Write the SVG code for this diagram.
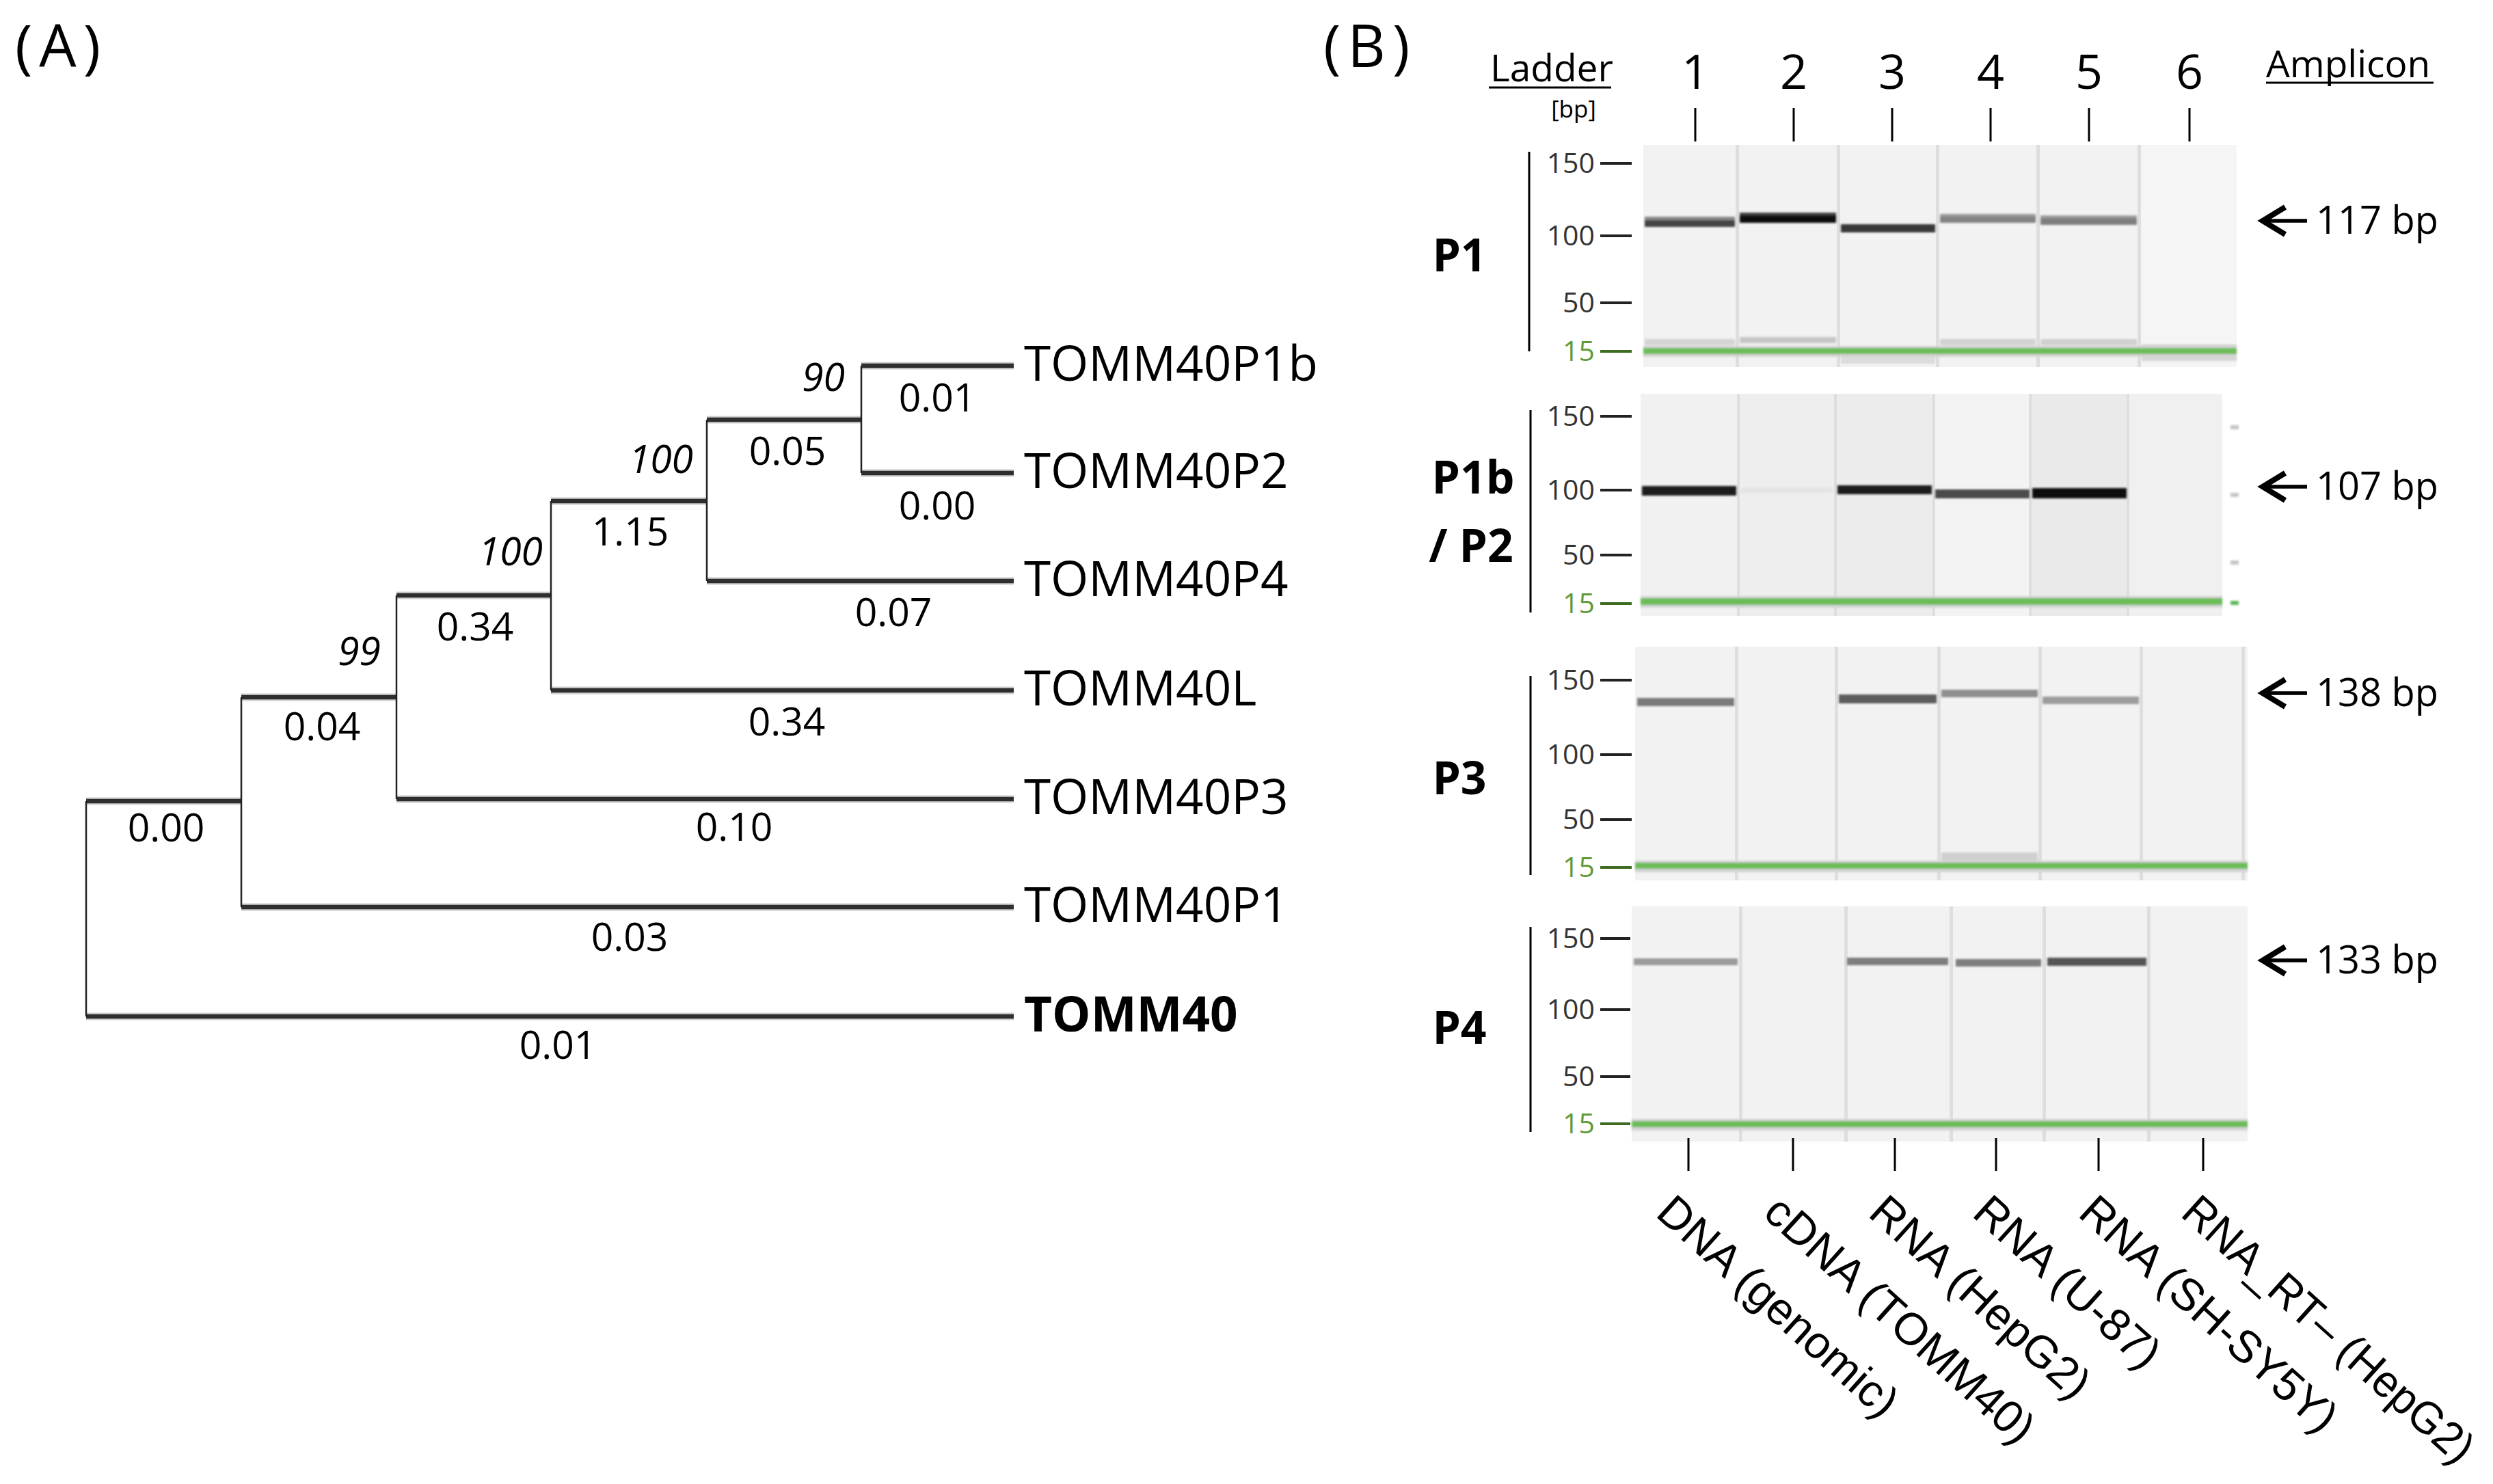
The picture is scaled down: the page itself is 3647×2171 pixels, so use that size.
<svg xmlns="http://www.w3.org/2000/svg" width="3647" height="2171" viewBox="0 0 3647 2171">
<defs>
<style>
.t{font-family:"Open Sans","Liberation Sans",sans-serif;fill:#000}
.tip{font-size:71px}
.bl{font-size:57px;text-anchor:middle}
.bs{font-size:57px;font-style:italic;text-anchor:end}
.halo{stroke:#cfcfcf;stroke-width:11;fill:none}
.h{stroke:#2e2e2e;stroke-width:6.5;fill:none}
.v{stroke:#222;stroke-width:2.5;fill:none}
.lad{font-size:41px;fill:#333;text-anchor:end}
.lad15{font-size:41px;fill:#5e9a38;text-anchor:end}
.tk{stroke:#222;stroke-width:4}
.tk15{stroke:#3d6b22;stroke-width:4}
.axis{stroke:#000;stroke-width:3}
.lt{stroke:#000;stroke-width:3}
.pl{font-size:66px;font-weight:bold;text-anchor:middle}
.hd{font-size:55px}
.num{font-size:70px;text-anchor:middle}
.bp{font-size:56px}
.rot{font-family:"Liberation Sans",Arial,sans-serif;font-size:66px;fill:#000}
.gel{fill:#f2f2f2}
.sep{fill:#dedede}
.grn{fill:#6cbd58}
.ghalo{fill:#d4d4d4}
.arrow{stroke:#000;stroke-width:5.5;fill:none;marker-end:url(#ah)}
</style>
<filter id="soft" x="-5%" y="-200%" width="110%" height="500%"><feGaussianBlur stdDeviation="1.6"/></filter>
<marker id="ah" markerUnits="userSpaceOnUse" markerWidth="46" markerHeight="50" viewBox="0 0 46 50" refX="38" refY="25" orient="auto">
<path d="M5,5 L38,25 L5,45" stroke="#000" stroke-width="8" fill="none"/>
</marker>
</defs>
<rect width="3647" height="2171" fill="#fff"/>

<!-- Panel A -->
<text class="t" x="22" y="98" font-size="86" letter-spacing="10">(A)</text>

<g id="connectors">
<g class="halo">
<path d="M1260,535H1483M1260,692H1483M1034,614H1260M1034,850H1483M806,733H1034M806,1010H1483M580,871H806M580,1169H1483M353,1020H580M353,1327H1483M126,1172H353M126,1487H1483"/>
</g>
<g class="h">
<path d="M1260,535H1483M1260,692H1483M1034,614H1260M1034,850H1483M806,733H1034M806,1010H1483M580,871H806M580,1169H1483M353,1020H580M353,1327H1483M126,1172H353M126,1487H1483"/>
</g>
<g class="v">
<path d="M1260,535V692M1034,614V850M806,733V1010M580,871V1169M353,1020V1327M126,1172V1487"/>
</g>
</g>

<g id="branch-labels" class="t">
<text class="bs" x="1236" y="572">90</text>
<text class="bs" x="1014" y="692">100</text>
<text class="bs" x="794" y="827">100</text>
<text class="bs" x="557" y="973">99</text>
<text class="bl" x="1371" y="602">0.01</text>
<text class="bl" x="1152" y="680">0.05</text>
<text class="bl" x="1371" y="760">0.00</text>
<text class="bl" x="922" y="798">1.15</text>
<text class="bl" x="1307" y="916">0.07</text>
<text class="bl" x="695" y="937">0.34</text>
<text class="bl" x="1151" y="1076">0.34</text>
<text class="bl" x="471" y="1083">0.04</text>
<text class="bl" x="1074" y="1230">0.10</text>
<text class="bl" x="243" y="1231">0.00</text>
<text class="bl" x="921" y="1391">0.03</text>
<text class="bl" x="816" y="1549">0.01</text>
</g>

<g id="tip-TOMM40P1b"><text class="t tip" x="1498" y="557">TOMM40P1b</text></g>
<g id="tip-TOMM40P2"><text class="t tip" x="1498" y="714">TOMM40P2</text></g>
<g id="tip-TOMM40P4"><text class="t tip" x="1498" y="872">TOMM40P4</text></g>
<g id="tip-TOMM40L"><text class="t tip" x="1498" y="1032">TOMM40L</text></g>
<g id="tip-TOMM40P3"><text class="t tip" x="1498" y="1191">TOMM40P3</text></g>
<g id="tip-TOMM40P1"><text class="t tip" x="1498" y="1349">TOMM40P1</text></g>
<g id="tip-TOMM40"><text class="t tip" x="1498" y="1509" font-weight="bold">TOMM40</text></g>

<!-- Panel B -->
<text class="t" x="1936" y="98" font-size="86" letter-spacing="10">(B)</text>

<g id="header" class="t">
<text class="hd" x="2180" y="119">Ladder</text>
<line x1="2178" y1="128" x2="2357" y2="128" stroke="#000" stroke-width="3"/>
<text x="2302" y="172" font-size="35" text-anchor="middle">[bp]</text>
<text class="num" x="2480" y="130">1</text>
<text class="num" x="2624" y="130">2</text>
<text class="num" x="2768" y="130">3</text>
<text class="num" x="2912" y="130">4</text>
<text class="num" x="3056" y="130">5</text>
<text class="num" x="3203" y="130">6</text>
<text class="hd" x="3315" y="113">Amplicon</text>
<line x1="3315" y1="121" x2="3560" y2="121" stroke="#000" stroke-width="3"/>
<g class="lt"><path d="M2480,158V207M2624,158V207M2768,158V207M2912,158V207M3056,158V207M3203,158V207"/></g>
</g>

<!-- Gel P1 -->
<g id="gel-P1">
<rect class="gel" x="2404" y="212" width="868" height="325"/>
<rect x="3131" y="212" width="141" height="325" fill="#f5f5f5"/>
<g class="sep"><rect x="2539" y="212" width="5" height="325"/><rect x="2687" y="212" width="5" height="325"/><rect x="2832" y="212" width="5" height="325"/><rect x="2979" y="212" width="5" height="325"/><rect x="3127" y="212" width="5" height="325"/></g>
<g filter="url(#soft)">
<rect x="2406" y="317" width="132" height="8" fill="#8a8a8a"/><rect x="2406" y="322" width="132" height="10" fill="#444"/>
<rect x="2545" y="311" width="141" height="8" fill="#444"/><rect x="2545" y="315" width="141" height="11" fill="#0d0d0d"/>
<rect x="2693" y="328" width="138" height="12" fill="#383838"/>
<rect x="2838" y="313" width="140" height="8" fill="#9a9a9a"/><rect x="2838" y="317" width="140" height="9" fill="#838383"/>
<rect x="2985" y="315" width="141" height="8" fill="#a0a0a0"/><rect x="2985" y="319" width="141" height="10" fill="#7e7e7e"/>
<rect x="2406" y="496" width="132" height="9" fill="#d4d4d4"/>
<rect x="2545" y="493" width="141" height="9" fill="#c6c6c6"/>
<rect x="2838" y="496" width="140" height="9" fill="#d2d2d2"/>
<rect x="2985" y="496" width="141" height="9" fill="#d0d0d0"/>
<rect x="2693" y="520" width="138" height="12" fill="#dcdcdc"/>
<rect x="3133" y="504" width="139" height="5" fill="#cfcfcf"/>
<rect x="3133" y="520" width="139" height="8" fill="#d6d6d6"/>
<rect x="2404" y="506" width="868" height="16" class="ghalo"/>
<rect x="2404" y="509" width="868" height="9" class="grn"/>
</g>
</g>

<!-- Gel P1b/P2 -->
<g id="gel-P1b-P2">
<rect x="2400" y="576" width="143" height="325" fill="#f1f1f1"/>
<rect x="2543" y="576" width="142" height="325" fill="#eeeeee"/>
<rect x="2685" y="576" width="144" height="325" fill="#ececec"/>
<rect x="2829" y="576" width="141" height="325" fill="#f3f3f3"/>
<rect x="2970" y="576" width="143" height="325" fill="#eaeaea"/>
<rect x="3113" y="576" width="138" height="325" fill="#f0f0f0"/>
<g class="sep"><rect x="2541" y="576" width="4" height="325"/><rect x="2683" y="576" width="4" height="325"/><rect x="2827" y="576" width="4" height="325"/><rect x="2968" y="576" width="4" height="325"/><rect x="3111" y="576" width="4" height="325"/></g>
<g filter="url(#soft)">
<rect x="2402" y="711" width="138" height="14" fill="#1a1a1a"/>
<rect x="2547" y="713" width="135" height="8" fill="#e4e4e4"/>
<rect x="2688" y="710" width="138" height="13" fill="#1e1e1e"/>
<rect x="2831" y="716" width="138" height="13" fill="#4c4c4c"/>
<rect x="2973" y="714" width="138" height="15" fill="#0a0a0a"/>
<rect x="2400" y="872" width="851" height="17" class="ghalo"/>
<rect x="2400" y="875" width="851" height="10" class="grn"/>
<rect x="3263" y="622" width="12" height="6" fill="#c4c4c4"/>
<rect x="3263" y="721" width="12" height="6" fill="#c4c4c4"/>
<rect x="3263" y="820" width="12" height="6" fill="#c4c4c4"/>
<rect x="3263" y="879" width="12" height="6" fill="#5cb85c"/>
</g>
</g>

<!-- Gel P3 -->
<g id="gel-P3">
<rect class="gel" x="2392" y="946" width="896" height="342"/>
<g class="sep"><rect x="2538" y="946" width="5" height="342"/><rect x="2684" y="946" width="5" height="342"/><rect x="2834" y="946" width="5" height="342"/><rect x="2982" y="946" width="5" height="342"/><rect x="3130" y="946" width="5" height="342"/><rect x="3279" y="946" width="5" height="342"/></g>
<g filter="url(#soft)">
<rect x="2395" y="1021" width="142" height="12" fill="#7a7a7a"/>
<rect x="2690" y="1016" width="143" height="13" fill="#5c5c5c"/>
<rect x="2840" y="1009" width="141" height="11" fill="#8e8e8e"/>
<rect x="2988" y="1019" width="141" height="11" fill="#9c9c9c"/>
<rect x="2840" y="1247" width="141" height="12" fill="#d0d0d0"/>
<rect x="2392" y="1259" width="896" height="17" class="ghalo"/>
<rect x="2392" y="1262" width="896" height="9" class="grn"/>
</g>
</g>

<!-- Gel P4 -->
<g id="gel-P4">
<rect class="gel" x="2387" y="1326" width="901" height="344"/>
<g class="sep"><rect x="2544" y="1326" width="5" height="344"/><rect x="2698" y="1326" width="5" height="344"/><rect x="2852" y="1326" width="5" height="344"/><rect x="2988" y="1326" width="5" height="344"/><rect x="3141" y="1326" width="5" height="344"/></g>
<g filter="url(#soft)">
<rect x="2390" y="1402" width="152" height="10" fill="#9a9a9a"/>
<rect x="2702" y="1401" width="148" height="11" fill="#7e7e7e"/>
<rect x="2861" y="1403" width="125" height="11" fill="#7e7e7e"/>
<rect x="2995" y="1401" width="145" height="12" fill="#555"/>
<rect x="2387" y="1637" width="901" height="17" class="ghalo"/>
<rect x="2387" y="1640" width="901" height="9" class="grn"/>
</g>
</g>

<!-- Ladders -->
<g id="ladder-P1" class="t">
<line class="axis" x1="2237" y1="222" x2="2237" y2="514"/>
<line class="tk" x1="2341" y1="239" x2="2387" y2="239"/><text class="lad" x="2333" y="253">150</text>
<line class="tk" x1="2341" y1="345" x2="2387" y2="345"/><text class="lad" x="2333" y="359">100</text>
<line class="tk" x1="2341" y1="443" x2="2387" y2="443"/><text class="lad" x="2333" y="457">50</text>
<line class="tk15" x1="2341" y1="514" x2="2387" y2="514"/><text class="lad15" x="2333" y="528">15</text>
<text class="pl" x="2135" y="397">P1</text>
</g>
<g id="ladder-P1b-P2" class="t">
<line class="axis" x1="2239" y1="600" x2="2239" y2="896"/>
<line class="tk" x1="2341" y1="609" x2="2387" y2="609"/><text class="lad" x="2333" y="623">150</text>
<line class="tk" x1="2341" y1="717" x2="2387" y2="717"/><text class="lad" x="2333" y="731">100</text>
<line class="tk" x1="2341" y1="812" x2="2387" y2="812"/><text class="lad" x="2333" y="826">50</text>
<line class="tk15" x1="2341" y1="883" x2="2387" y2="883"/><text class="lad15" x="2333" y="897">15</text>
<text class="pl" x="2155" y="722">P1b</text>
<text class="pl" x="2152" y="822">/ P2</text>
</g>
<g id="ladder-P3" class="t">
<line class="axis" x1="2239" y1="989" x2="2239" y2="1280"/>
<line class="tk" x1="2341" y1="995" x2="2387" y2="995"/><text class="lad" x="2333" y="1009">150</text>
<line class="tk" x1="2341" y1="1104" x2="2387" y2="1104"/><text class="lad" x="2333" y="1118">100</text>
<line class="tk" x1="2341" y1="1199" x2="2387" y2="1199"/><text class="lad" x="2333" y="1213">50</text>
<line class="tk15" x1="2341" y1="1269" x2="2387" y2="1269"/><text class="lad15" x="2333" y="1283">15</text>
<text class="pl" x="2135" y="1162">P3</text>
</g>
<g id="ladder-P4" class="t">
<line class="axis" x1="2239" y1="1356" x2="2239" y2="1656"/>
<line class="tk" x1="2341" y1="1373" x2="2385" y2="1373"/><text class="lad" x="2333" y="1387">150</text>
<line class="tk" x1="2341" y1="1477" x2="2385" y2="1477"/><text class="lad" x="2333" y="1491">100</text>
<line class="tk" x1="2341" y1="1575" x2="2385" y2="1575"/><text class="lad" x="2333" y="1589">50</text>
<line class="tk15" x1="2341" y1="1644" x2="2385" y2="1644"/><text class="lad15" x="2333" y="1658">15</text>
<text class="pl" x="2135" y="1527">P4</text>
</g>

<!-- Amplicon arrows -->
<g id="amp-117"><line class="arrow" x1="3375" y1="323" x2="3310" y2="323"/><text class="t bp" x="3388" y="342">117 bp</text></g>
<g id="amp-107"><line class="arrow" x1="3375" y1="712" x2="3310" y2="712"/><text class="t bp" x="3388" y="731">107 bp</text></g>
<g id="amp-138"><line class="arrow" x1="3375" y1="1014" x2="3310" y2="1014"/><text class="t bp" x="3388" y="1033">138 bp</text></g>
<g id="amp-133"><line class="arrow" x1="3375" y1="1405" x2="3310" y2="1405"/><text class="t bp" x="3388" y="1424">133 bp</text></g>

<!-- Sample labels -->
<g id="samples">
<g class="lt"><path d="M2470,1665V1713M2623,1665V1713M2772,1665V1713M2920,1665V1713M3070,1665V1713M3223,1665V1713"/></g>
<text class="rot" transform="translate(2420,1778) rotate(42)">DNA (genomic)</text>
<text class="rot" transform="translate(2577,1778) rotate(42)">cDNA (TOMM40)</text>
<text class="rot" transform="translate(2731,1778) rotate(42)">RNA (HepG2)</text>
<text class="rot" transform="translate(2883,1778) rotate(42)">RNA (U-87)</text>
<text class="rot" transform="translate(3038,1778) rotate(42)">RNA (SH-SY5Y)</text>
<text class="rot" transform="translate(3188,1778) rotate(42)" font-size="62" textLength="548" lengthAdjust="spacingAndGlyphs">RNA_RT– (HepG2)</text>
</g>
</svg>
